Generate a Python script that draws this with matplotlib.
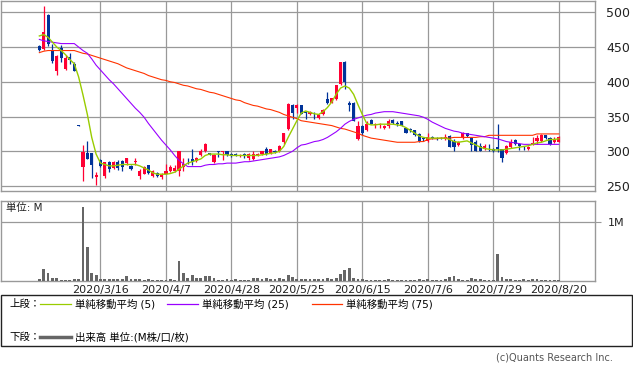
import numpy as np
import matplotlib
matplotlib.use("Agg")
import matplotlib.pyplot as plt
from matplotlib.patches import Rectangle
from matplotlib.lines import Line2D

plt.rcParams['font.family'] = ['DejaVu Sans', 'Noto Sans CJK JP']

# ---------------- data ----------------
first_day = 9  # trading-day index of first candle (2020/2/25)
tick_days = [23, 38, 53, 68, 83, 98, 113, 128]
tick_labels = ['2020/3/16', '2020/4/7', '2020/4/28', '2020/5/25',
               '2020/6/15', '2020/7/6', '2020/7/29', '2020/8/20']

opens = [452, 447, 496, 444, 415, 449, 418, 436, 426, 337.5,
         277, 298, 297, 263, 288, 265, 284, 276, 285, 286,
         283, 279, 285, 264, 268, 280, 264, 269, 263, 268,
         271, 271, 271, 277, 288, 289, 286, 294, 300, 297,
         284, 300, 299.5, 300, 296, 295.5, 294, 295.5, 290, 289,
         295, 296, 304, 297, 300.5, 300, 313, 332, 366, 363,
         366, 356, 354, 354, 348, 353, 375, 370, 375, 397,
         429, 370, 370, 317, 336, 330, 345, 338, 338, 333,
         336, 345, 341, 343, 333, 331.5, 330, 325, 318.5, 315,
         320.5, 319.5, 319.5, 317, 322, 315, 309, 320, 326, 319,
         314, 307, 303, 306.5, 303, 306, 303, 298, 306, 316,
         311, 306.5, 303, 310, 315, 315, 323, 319, 314, 314]
highs = [453, 509, 497, 455, 439, 453, 438, 442, 429, 337.5,
         309, 315, 298, 270, 289, 285, 286, 286, 288, 287,
         291, 281, 290, 275, 279, 281, 273, 270, 269, 282,
         280, 280, 300, 291, 290, 304, 292, 303, 312, 298,
         296, 301, 301, 301, 297, 297, 296, 297, 298, 300,
         297, 301, 306, 304, 302, 309, 327, 370, 368, 368,
         367, 358, 358, 356, 353, 361, 386, 377, 396, 429,
         430, 373, 371, 343, 338, 343, 346, 341, 341, 338,
         346, 346, 343, 344, 334, 333, 331, 326, 320, 327,
         322, 321, 321, 325, 323, 317, 315, 328, 327, 320,
         316, 312, 310, 311, 305, 340, 304, 309, 318, 317,
         312, 308, 307, 320, 324, 325, 324, 321, 320, 322]
lows = [445, 446, 451, 427, 410, 429, 417, 425, 416, 336.5,
        257, 289, 262, 252, 278, 261, 270, 275, 273, 272,
        280, 273, 280, 260, 267, 268, 263, 263, 260, 267,
        270, 270, 264, 272, 282, 280, 285, 293, 299, 294,
        283, 292, 287, 293, 292, 293, 292, 291, 288, 288,
        293, 295, 295, 296, 297, 299, 311, 330, 347, 355,
        353, 347, 352, 347, 346, 352, 368, 369, 374, 395,
        389, 358, 344, 316, 324, 329, 339, 334, 333, 332,
        334, 340, 337, 336, 326, 328, 322, 314, 315, 314,
        317, 316, 317, 316, 306, 300, 308, 318, 320, 301,
        300, 300, 302, 301, 299, 299, 284, 296, 305, 309,
        302, 302, 302, 309, 311, 314, 318, 309, 312, 313]
closes = [446, 471, 455, 430, 437, 434, 434, 432, 416, 336.5,
          299, 289, 280, 266, 279, 284, 275, 284, 276, 278,
          290, 274, 286, 271, 277, 269, 271, 264, 266, 272,
          277, 276, 300, 282, 287, 284, 291, 300, 310, 295,
          295, 299, 300.5, 294, 293, 294.5, 295, 294.5, 296, 296,
          296, 300, 296, 303, 299.5, 308, 326, 368, 355, 366,
          353, 355, 356, 353, 352, 360, 369, 376, 395, 429,
          400, 366, 344, 337, 326, 340, 340, 340, 340, 337,
          344, 341, 339, 337, 327, 330.5, 323, 315, 317.5, 321,
          319.5, 318.5, 318.5, 321, 306, 306, 313, 326, 322, 309,
          301, 301, 308, 305.5, 300, 303, 291, 307, 313, 310,
          307, 305.5, 306, 312, 319, 323, 319, 310, 317, 320]

volume_m = [0.02, 0.19, 0.12, 0.04, 0.04, 0.01, 0.005, 0.005, 0.02, 0.02,
            1.25, 0.58, 0.12, 0.09, 0.02, 0.02, 0.02, 0.02, 0.02, 0.03,
            0.07, 0.02, 0.02, 0.02, 0.01, 0.02, 0.01, 0.01, 0.005, 0.005,
            0.02, 0.01, 0.34, 0.12, 0.05, 0.10, 0.04, 0.04, 0.07, 0.08,
            0.05, 0.005, 0.005, 0.02, 0.005, 0.02, 0.01, 0.01, 0.01, 0.05,
            0.04, 0.02, 0.04, 0.03, 0.03, 0.04, 0.03, 0.09, 0.06, 0.02,
            0.02, 0.02, 0.02, 0.02, 0.02, 0.02, 0.05, 0.03, 0.05, 0.11,
            0.18, 0.22, 0.04, 0.03, 0.02, 0.005, 0.005, 0.005, 0.005, 0.005,
            0.02, 0.005, 0.005, 0.005, 0.005, 0.005, 0.005, 0.02, 0.005, 0.02,
            0.005, 0.005, 0.005, 0.03, 0.06, 0.07, 0.02, 0.01, 0.005, 0.05,
            0.02, 0.02, 0.01, 0.005, 0.005, 0.45, 0.06, 0.02, 0.02, 0.005,
            0.005, 0.02, 0.005, 0.02, 0.02, 0.005, 0.005, 0.005, 0.005, 0.005]

sma5 = [466, 468, 464, 457, 450, 445, 439, 432, 426, 407,
        381, 353, 320, 296, 283, 281, 279, 279, 280, 281,
        281, 281, 281, 279, 276, 273, 269, 267, 267, 267,
        268, 270, 274, 279, 283, 285, 287, 289, 294, 296,
        296, 296, 295, 295, 294, 294, 294, 294, 294, 294,
        294, 295, 296, 297, 298, 300, 307, 320, 332, 344,
        355, 358, 356, 354, 353, 357, 363, 371, 382, 391,
        394, 391, 382, 367, 353, 340, 338, 338, 339, 339,
        339, 339, 338, 337, 334, 330, 326, 322, 320, 319,
        319, 319, 319, 319, 317, 314, 313, 314, 315, 312,
        309, 306, 304, 303, 302, 302, 302, 303, 304, 305,
        306, 307, 308, 310, 312, 313, 315, 317, 317, 318]
sma25 = [461, 459, 458, 457, 456, 455, 455, 455, 455, 450,
         445, 441, 433, 424, 417, 410, 403, 397, 390, 383,
         376, 369, 362, 356, 349, 340, 332, 324, 316, 309,
         302, 294, 287, 282, 278, 278, 278, 278, 280, 281,
         281, 282, 282, 283, 283, 283, 284, 285, 285, 286,
         287, 288, 289, 290, 291, 292, 294, 297, 300, 305,
         309, 310, 312, 314, 315, 317, 320, 324, 328, 333,
         339, 343, 346, 348, 350, 352, 353, 355, 356, 357,
         357, 357, 356, 355, 354, 353, 352, 351, 349, 346,
         342, 339, 336, 333, 331, 329, 328, 326, 325, 324,
         323, 322, 321, 320, 319, 318, 316, 314, 313, 312,
         311, 310, 310, 310, 310, 310, 310, 310, 310, 310]
sma75 = [442, 444, 445, 445, 445, 445, 445, 445, 445, 443,
         441, 440, 438, 436, 434, 432, 430, 428, 426, 423,
         420, 418, 416, 414, 412, 409, 407, 405, 403, 402,
         400, 399, 397, 395, 394, 392, 390, 389, 387, 385,
         384, 382, 380, 378, 376, 374, 373, 370, 368, 366,
         365, 363, 361, 360, 358, 356, 353, 351, 349, 347,
         344, 343, 342, 341, 340, 339, 338, 337, 335, 333,
         332, 330, 328, 326, 323, 321, 319, 318, 317, 316,
         315, 314, 313, 313, 313, 313, 313, 314, 314, 317,
         318, 318, 319, 319, 319, 320, 320, 320, 320, 320,
         320, 321, 321, 323, 323, 323, 323, 323, 323, 323,
         323, 323, 323, 323, 325, 325, 325, 325, 325, 325]

# ---------------- figure ----------------
W, H = 633, 372
fig = plt.figure(figsize=(W / 100, H / 100), dpi=100)

def fx(px):
    return px / W

def fy(py):
    return 1 - py / H

GRID = '#999999'
RED = '#ff0033'
BLUE = '#003399'

x = np.arange(first_day, first_day + len(closes))
o = np.array(opens, float)
h = np.array(highs, float)
l = np.array(lows, float)
c = np.array(closes, float)
up = c >= o
cols = np.where(up, RED, BLUE)

ax1 = fig.add_axes([fx(0.5), fy(190.7), fx(594.5), (190.7 - 0.5) / H])
ax2 = fig.add_axes([fx(0.5), fy(280.5), fx(594.5), (280.5 - 201) / H])

xmin, xmax = 0.1, 136.3
for ax in (ax1, ax2):
    ax.set_xlim(xmin, xmax)
    for s in ax.spines.values():
        s.set_color(GRID)
        s.set_linewidth(1.0)
    ax.set_xticks(tick_days)
    ax.grid(True, axis='x', color=GRID, linewidth=0.9)
    ax.set_axisbelow(True)

# price panel
ax1.set_ylim(243.3, 517)
ax1.set_yticks([250, 300, 350, 400, 450, 500])
ax1.grid(True, axis='y', color=GRID, linewidth=0.9)
ax1.yaxis.tick_right()
ax1.tick_params(axis='y', length=0, pad=8, labelsize=9, labelcolor='#222222')
ax1.tick_params(axis='x', length=0, labelbottom=False)

ax1.vlines(x, l, h, colors=cols, linewidth=0.9, zorder=3)
body_bottom = np.minimum(o, c)
body_h = np.maximum(np.abs(c - o), 0.8)
ax1.bar(x, body_h, bottom=body_bottom, width=0.72, color=cols,
        linewidth=0, zorder=4)

ax1.plot(x, sma75, color='#ff3300', linewidth=0.8, zorder=5)
ax1.plot(x, sma25, color='#9900ff', linewidth=0.8, zorder=5)
ax1.plot(x, sma5, color='#99cc00', linewidth=1.0, zorder=6)

# volume panel
ax2.set_ylim(0, 1.36)
ax2.set_yticks([1.0])
ax2.set_yticklabels(['1M'])
ax2.yaxis.tick_right()
ax2.grid(True, axis='y', color=GRID, linewidth=0.9)
ax2.tick_params(axis='y', length=4, color=GRID, pad=5, labelsize=8,
                labelcolor='#222222')
ax2.set_xticklabels(tick_labels)
ax2.tick_params(axis='x', length=0, pad=3, labelsize=8, labelcolor='#222222')
ax2.bar(x, volume_m, width=0.65, color='#666666', linewidth=0, zorder=3)
ax2.text(5 / 594.5, 0.97, '単位: M', transform=ax2.transAxes, fontsize=7.5,
         va='top', ha='left', color='#222222')

# legend box
fig.patches.append(Rectangle((fx(0.5), fy(346)), fx(631), (346 - 295) / H,
                             transform=fig.transFigure, fill=False,
                             edgecolor='#222222', linewidth=1.0))
row1, row2 = fy(304), fy(337)
fig.text(fx(9), row1, '上段：', fontsize=7.5, va='center', ha='left')
fig.text(fx(9), row2, '下段：', fontsize=7.5, va='center', ha='left')
legend_items = [(40, 71, '#99cc00', '単純移動平均 (5)'),
                (167, 198, '#9900ff', '単純移動平均 (25)'),
                (312, 342, '#ff3300', '単純移動平均 (75)')]
for x0, x1, col, lab in legend_items:
    fig.lines.append(Line2D([fx(x0), fx(x1)], [row1, row1], color=col,
                            linewidth=0.9, transform=fig.transFigure))
    fig.text(fx(x1 + 4), row1, lab, fontsize=7.5, va='center', ha='left')
fig.lines.append(Line2D([fx(40), fx(71)], [row2, row2], color='#666666',
                        linewidth=2.5, transform=fig.transFigure))
fig.text(fx(75), row2, '出来高 単位:(M株/口/枚)', fontsize=7.5, va='center',
         ha='left')

fig.text(fx(613), fy(358), '(c)Quants Research Inc.', fontsize=7,
         va='center', ha='right', color='#555555')

fig.savefig('out.png', dpi=100)
